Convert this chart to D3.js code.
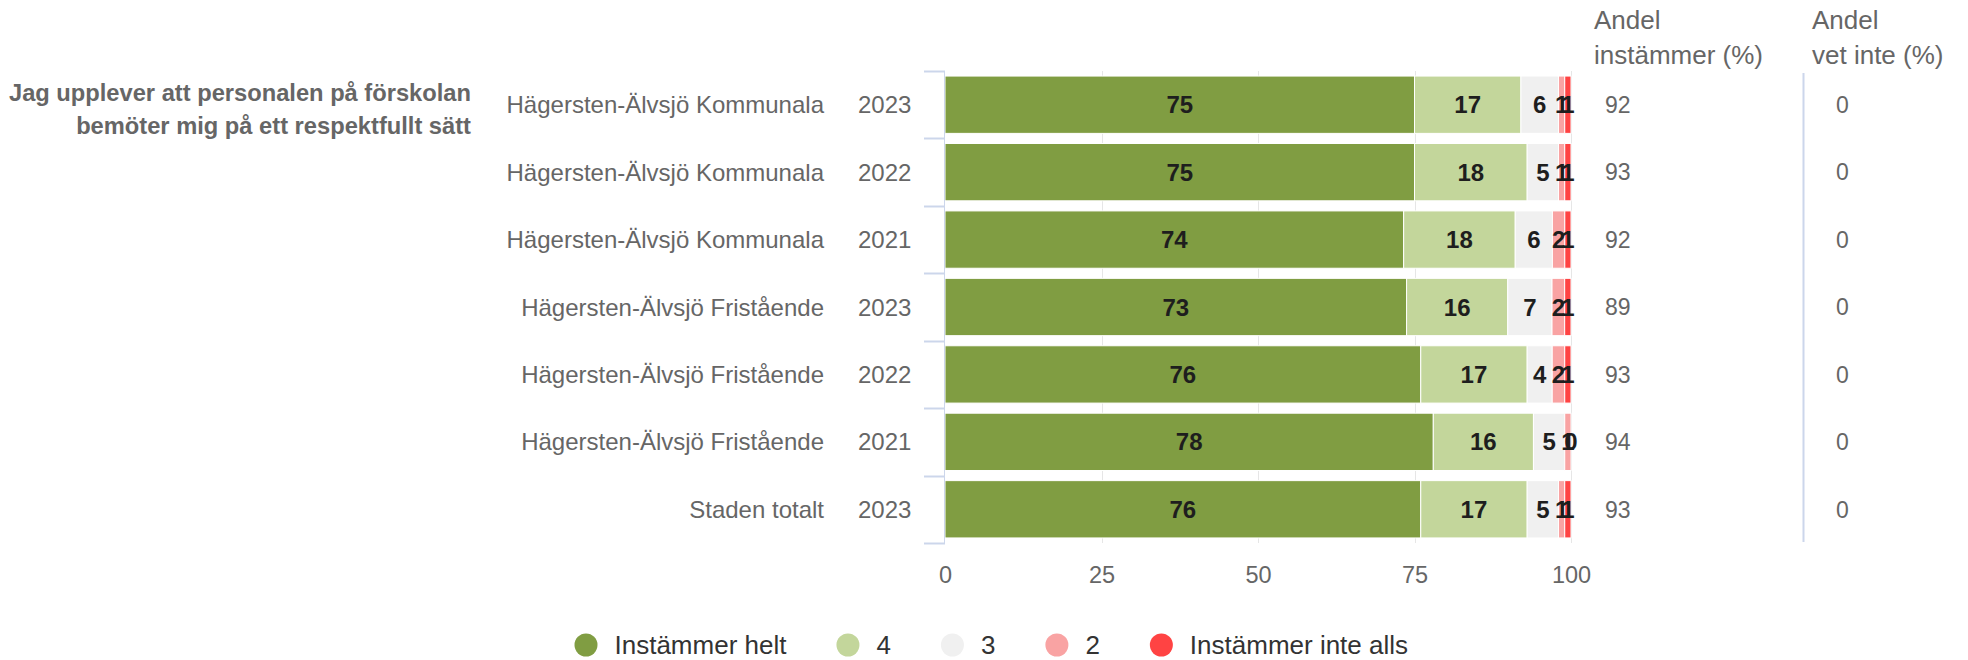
<!DOCTYPE html>
<html>
<head>
<meta charset="utf-8">
<script src="https://cdn.jsdelivr.net/npm/d3@7"></script>
<style>
  html, body { margin: 0; padding: 0; background: #fff; }
  svg { display: block; font-family: "Liberation Sans", Arial, Helvetica, sans-serif; }
</style>
</head>
<body>
<svg id="chart" width="1968" height="660"></svg>
<script>
// Question and rows
const questionLines = ["Jag upplever att personalen på förskolan", "bemöter mig på ett respektfullt sätt"];
const categories = [
  "Hägersten-Älvsjö Kommunala",
  "Hägersten-Älvsjö Kommunala",
  "Hägersten-Älvsjö Kommunala",
  "Hägersten-Älvsjö Fristående",
  "Hägersten-Älvsjö Fristående",
  "Hägersten-Älvsjö Fristående",
  "Staden totalt"
];
const years = ["2023", "2022", "2021", "2023", "2022", "2021", "2023"];

// Answer shares (%) per row, one array per answer option
const seriesNames = ["Instämmer helt", "4", "3", "2", "Instämmer inte alls"];
const instammerHelt = [75, 75, 74, 73, 76, 78, 76];
const svar4 = [17, 18, 18, 16, 17, 16, 17];
const svar3 = [6, 5, 6, 7, 4, 5, 5];
const svar2 = [1, 1, 2, 2, 2, 1, 1];
const instammerInteAlls = [1, 1, 1, 1, 1, 0, 1];
const seriesColors = ["#809d42", "#c3d69b", "#f0f0f0", "#f9a3a3", "#ff4343"];

// Side columns
const andelInstammer = [92, 93, 92, 89, 93, 94, 93];
const andelVetInte = [0, 0, 0, 0, 0, 0, 0];
const xTickValues = [0, 25, 50, 75, 100];

const seriesValues = [instammerHelt, svar4, svar3, svar2, instammerInteAlls];
const rows = categories.map((c, i) => {
  const r = { idx: i };
  seriesNames.forEach((s, k) => { r[s] = seriesValues[k][i]; });
  return r;
});

const stacked = d3.stack()
  .keys(seriesNames)
  .offset(d3.stackOffsetExpand)(rows);

const svg = d3.select("#chart");
const font = "'Liberation Sans', Arial, Helvetica, sans-serif";

const plot = { left: 945, right: 1571, top: 71, bottom: 543 };

const x = d3.scaleLinear().domain([0, 1]).range([plot.left, plot.right]);
const y = d3.scaleBand()
  .domain(d3.range(categories.length))
  .range([plot.top, plot.bottom])
  .paddingInner(0.15)
  .paddingOuter(0.075);

// Vertical grid lines
svg.append("g")
  .selectAll("line")
  .data(xTickValues.filter(v => v > 0))
  .join("line")
  .attr("x1", d => Math.round(x(d / 100)) + 0.5)
  .attr("x2", d => Math.round(x(d / 100)) + 0.5)
  .attr("y1", plot.top)
  .attr("y2", plot.bottom)
  .attr("stroke", "#e6e6e6")
  .attr("stroke-width", 1);

// Stacked bars
const layers = svg.append("g")
  .selectAll("g")
  .data(stacked)
  .join("g")
  .attr("fill", (d, i) => seriesColors[i]);

layers.selectAll("rect")
  .data(d => d)
  .join("rect")
  .attr("x", d => x(d[0]))
  .attr("y", (d, i) => y(i))
  .attr("width", d => Math.max(0, x(d[1]) - x(d[0])))
  .attr("height", y.bandwidth())
  .attr("stroke", "#ffffff")
  .attr("stroke-width", 1);

// Value labels inside the segments
const labelGroup = svg.append("g");
stacked.forEach((layer, k) => {
  labelGroup.selectAll(null)
    .data(layer)
    .join("text")
    .attr("x", d => (x(d[0]) + x(d[1])) / 2)
    .attr("y", (d, i) => y(i) + y.bandwidth() / 2)
    .attr("dy", "0.36em")
    .attr("text-anchor", "middle")
    .attr("font-family", font)
    .attr("font-size", 24)
    .attr("font-weight", "bold")
    .attr("fill", "#1e1e1e")
    .text(d => d.data[layer.key]);
});

// Category axis (left)
const yAxisG = svg.append("g");
yAxisG.append("line")
  .attr("x1", plot.left - 0.5).attr("x2", plot.left - 0.5)
  .attr("y1", plot.top).attr("y2", plot.bottom)
  .attr("stroke", "#ccd6eb").attr("stroke-width", 1);
const step = y.step();
yAxisG.selectAll("line.tick")
  .data(d3.range(categories.length + 1))
  .join("line")
  .attr("class", "tick")
  .attr("x1", plot.left - 21).attr("x2", plot.left)
  .attr("y1", i => Math.round(plot.top + i * step) + 0.5)
  .attr("y2", i => Math.round(plot.top + i * step) + 0.5)
  .attr("stroke", "#ccd6eb").attr("stroke-width", 2);

yAxisG.selectAll("text.cat")
  .data(categories)
  .join("text")
  .attr("class", "cat")
  .attr("x", 824)
  .attr("y", (d, i) => y(i) + y.bandwidth() / 2)
  .attr("dy", "0.36em")
  .attr("text-anchor", "end")
  .attr("font-family", font)
  .attr("font-size", 24)
  .attr("fill", "#666666")
  .text(d => d);

yAxisG.selectAll("text.year")
  .data(years)
  .join("text")
  .attr("class", "year")
  .attr("x", 858)
  .attr("y", (d, i) => y(i) + y.bandwidth() / 2)
  .attr("dy", "0.36em")
  .attr("text-anchor", "start")
  .attr("font-family", font)
  .attr("font-size", 24)
  .attr("fill", "#666666")
  .text(d => d);

// Value axis (bottom)
const xAxis = d3.axisBottom(x)
  .tickValues(xTickValues.map(v => v / 100))
  .tickFormat(d => d3.format("d")(d * 100))
  .tickSize(0)
  .tickPadding(0);
const xAxisG = svg.append("g")
  .attr("transform", `translate(0, ${plot.bottom})`)
  .call(xAxis);
xAxisG.select(".domain").remove();
xAxisG.selectAll("text")
  .attr("y", 32)
  .attr("dy", "0.36em")
  .attr("font-family", font)
  .attr("font-size", 23.5)
  .attr("fill", "#666666");

// Question title
svg.append("text")
  .attr("x", 471)
  .attr("y", 92)
  .attr("text-anchor", "end")
  .attr("font-family", font)
  .attr("font-size", 23.7)
  .attr("font-weight", "bold")
  .attr("fill", "#666666")
  .selectAll("tspan")
  .data(questionLines)
  .join("tspan")
  .attr("x", 471)
  .attr("dy", (d, i) => i === 0 ? "0.36em" : "33.5")
  .text(d => d);

// Side columns: share agreeing and share "don't know"
const sideCols = [
  { head: ["Andel", "instämmer (%)"], values: andelInstammer, hx: 1594, vx: 1605 },
  { head: ["Andel", "vet inte (%)"], values: andelVetInte, hx: 1812, vx: 1836 }
];
sideCols.forEach(col => {
  const g = svg.append("g");
  g.append("text")
    .attr("font-family", font)
    .attr("font-size", 26)
    .attr("fill", "#666666")
    .selectAll("tspan")
    .data(col.head)
    .join("tspan")
    .attr("x", col.hx)
    .attr("y", (d, i) => 20 + i * 35)
    .attr("dy", "0.36em")
    .text(d => d);
  g.selectAll("text.val")
    .data(col.values)
    .join("text")
    .attr("class", "val")
    .attr("x", col.vx)
    .attr("y", (d, i) => y(i) + y.bandwidth() / 2)
    .attr("dy", "0.36em")
    .attr("font-family", font)
    .attr("font-size", 23)
    .attr("fill", "#666666")
    .text(d => d);
});

svg.append("line")
  .attr("x1", 1803.5).attr("x2", 1803.5)
  .attr("y1", 73).attr("y2", 542)
  .attr("stroke", "#ccd6eb").attr("stroke-width", 2);

// Legend
const legend = svg.append("g").attr("transform", "translate(0, 645)");
let lx = 586;
seriesNames.forEach((name, i) => {
  legend.append("circle")
    .attr("cx", lx).attr("cy", 0).attr("r", 11.5)
    .attr("fill", seriesColors[i]);
  const t = legend.append("text")
    .attr("x", lx + 28.5)
    .attr("y", 0)
    .attr("dy", "0.36em")
    .attr("font-family", font)
    .attr("font-size", 26)
    .attr("fill", "#333333")
    .text(name);
  const w = t.node().getComputedTextLength();
  lx = lx + 28.5 + w + 61.5;
});
</script>
</body>
</html>
